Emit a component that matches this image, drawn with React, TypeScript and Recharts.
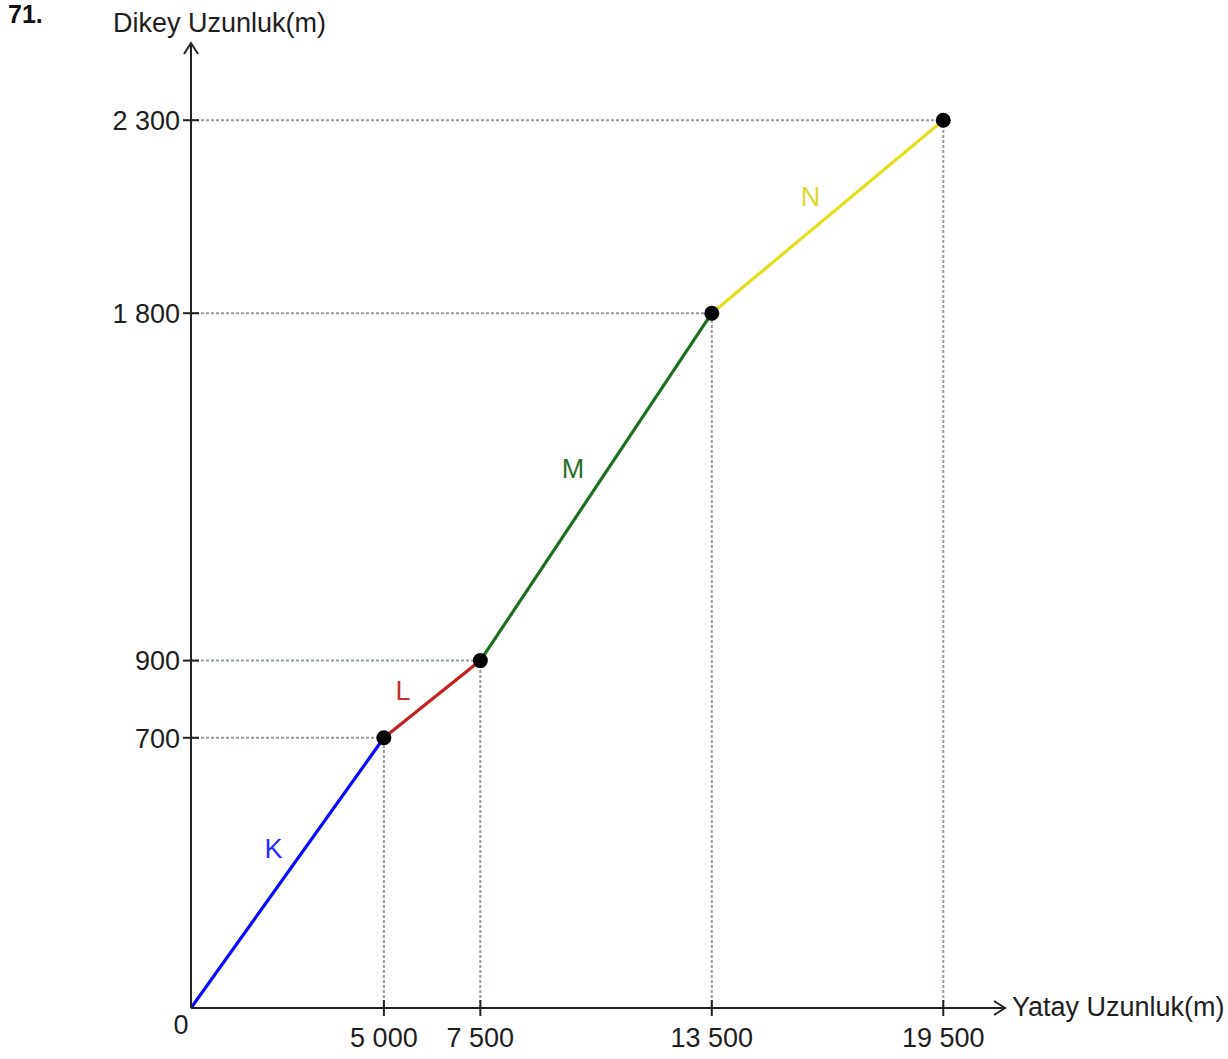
import React from 'react';
import { ComposedChart, XAxis, YAxis, Line, Scatter, ReferenceLine, ReferenceDot } from 'recharts';

// ---- data ----
const xPoints = [0, 5000, 7500, 13500, 19500];
const yPoints = [0, 700, 900, 1800, 2300];
const segmentNames = ['K', 'L', 'M', 'N'];
const xTicks = [0, 5000, 7500, 13500, 19500];
const yTicks = [700, 900, 1800, 2300];
const xDomain = [0, 21100];
const yDomain = [0, 2500];
const xAxisTitle = 'Yatay Uzunluk(m)';
const yAxisTitle = 'Dikey Uzunluk(m)';
const questionNumber = '71.';

// ---- styles ----
const FONT = '"Liberation Sans", Arial, Helvetica, sans-serif';
const FS = 27;
const TEXT = '#1e1e1e';
const AXIS = '#222';
const GRID = '#93a093';
const segColors = ['#0a0aff', '#c42020', '#1f6e1f', '#e6e01c'];
const labelColors = ['#2b2bff', '#c23030', '#2a6f2a', '#dcd82c'];
const labelOffsets = [
  [-14, -25],
  [-29, -9],
  [-23, -19],
  [-17, -20],
];

const W = 1228;
const H = 1059;
const AXW = 20;

const fmt = (v: number) => String(v).replace(/\B(?=(\d{3})+(?!\d))/g, ' ');

const points = xPoints.map((x, i) => ({ x, y: yPoints[i] }));
const segments = segmentNames.map((name, i) => ({
  name,
  data: [points[i], points[i + 1]],
  mid: { x: (points[i].x + points[i + 1].x) / 2, y: (points[i].y + points[i + 1].y) / 2 },
}));

const XTick = (props: any) => {
  const { x, y, payload } = props;
  const v = payload.value;
  if (v === 0) {
    return (
      <text x={x - 10} y={y + 26} textAnchor="middle" fontSize={FS} fontFamily={FONT} fill={TEXT}>
        0
      </text>
    );
  }
  return (
    <g>
      <line x1={x} x2={x} y1={y - 8} y2={y + 8} stroke={AXIS} strokeWidth={2} />
      <text x={x} y={y + 39} textAnchor="middle" fontSize={FS} fontFamily={FONT} fill={TEXT}>
        {fmt(v)}
      </text>
    </g>
  );
};

const YTick = (props: any) => {
  const { x, y, payload } = props;
  return (
    <g>
      <line x1={x - 8} x2={x + 8} y1={y} y2={y} stroke={AXIS} strokeWidth={2} />
      <text x={x - 11} y={y} dy="0.36em" textAnchor="end" fontSize={FS} fontFamily={FONT} fill={TEXT}>
        {fmt(payload.value)}
      </text>
    </g>
  );
};

export default function App() {
  return (
    <div style={{ position: 'absolute', left: 0, top: 0, width: W, height: H, overflow: 'hidden', background: '#fff' }}>
      <ComposedChart
        width={W}
        height={H}
        margin={{ top: 43, left: 191 - AXW, right: W - 191 - 814, bottom: 51 - AXW }}
      >
        <XAxis
          type="number"
          dataKey="x"
          domain={xDomain}
          ticks={xTicks}
          interval={0}
          height={AXW}
          tickSize={0}
          tickMargin={0}
          tickLine={false}
          axisLine={{ stroke: AXIS, strokeWidth: 2 }}
          tick={<XTick />}
          allowDataOverflow
        />
        <YAxis
          type="number"
          dataKey="y"
          domain={yDomain}
          ticks={yTicks}
          interval={0}
          width={AXW}
          tickSize={0}
          tickMargin={0}
          tickLine={false}
          axisLine={{ stroke: AXIS, strokeWidth: 2 }}
          tick={<YTick />}
          allowDataOverflow
        />
        {points.slice(1).map((p, i) => (
          <ReferenceLine
            key={'h' + i}
            segment={[{ x: 0, y: p.y }, { x: p.x, y: p.y }]}
            stroke={GRID}
            strokeWidth={2}
            strokeDasharray="3 2"
          />
        ))}
        {points.slice(1).map((p, i) => (
          <ReferenceLine
            key={'v' + i}
            segment={[{ x: p.x, y: 0 }, { x: p.x, y: p.y }]}
            stroke={GRID}
            strokeWidth={2}
            strokeDasharray="3 2"
          />
        ))}
        {segments.map((s, i) => (
          <Line
            key={s.name}
            data={s.data}
            dataKey="y"
            type="linear"
            stroke={segColors[i]}
            strokeWidth={3.2}
            dot={false}
            activeDot={false}
            isAnimationActive={false}
          />
        ))}
        <Scatter
          data={points.slice(1)}
          dataKey="y"
          isAnimationActive={false}
          shape={(p: any) => <circle cx={p.cx} cy={p.cy} r={7.5} fill="#000" />}
        />
        {segments.map((s, i) => (
          <ReferenceDot
            key={'lab' + s.name}
            x={s.mid.x}
            y={s.mid.y}
            ifOverflow="visible"
            shape={(p: any) => (
              <text
                x={p.cx + labelOffsets[i][0]}
                y={p.cy + labelOffsets[i][1]}
                dy="0.36em"
                textAnchor="middle"
                fontSize={FS}
                fontFamily={FONT}
                fill={labelColors[i]}
              >
                {s.name}
              </text>
            )}
          />
        ))}
        <ReferenceDot
          x={xDomain[1]}
          y={0}
          ifOverflow="visible"
          shape={(p: any) => (
            <path
              d={`M${p.cx - 11},${p.cy - 7} L${p.cx},${p.cy} L${p.cx - 11},${p.cy + 7}`}
              stroke={AXIS}
              strokeWidth={2}
              fill="none"
            />
          )}
        />
        <ReferenceDot
          x={0}
          y={yDomain[1]}
          ifOverflow="visible"
          shape={(p: any) => (
            <path
              d={`M${p.cx - 7},${p.cy + 11} L${p.cx},${p.cy} L${p.cx + 7},${p.cy + 11}`}
              stroke={AXIS}
              strokeWidth={2}
              fill="none"
            />
          )}
        />
      </ComposedChart>
      <svg width={W} height={H} style={{ position: 'absolute', left: 0, top: 0, pointerEvents: 'none' }}>
        <text x={8} y={23} fontSize={25} fontWeight="bold" fontFamily={FONT} fill="#111">
          {questionNumber}
        </text>
        <text x={113} y={32} fontSize={FS} fontFamily={FONT} fill={TEXT}>
          {yAxisTitle}
        </text>
        <text x={1012} y={1016} fontSize={FS} fontFamily={FONT} fill={TEXT}>
          {xAxisTitle}
        </text>
      </svg>
    </div>
  );
}
